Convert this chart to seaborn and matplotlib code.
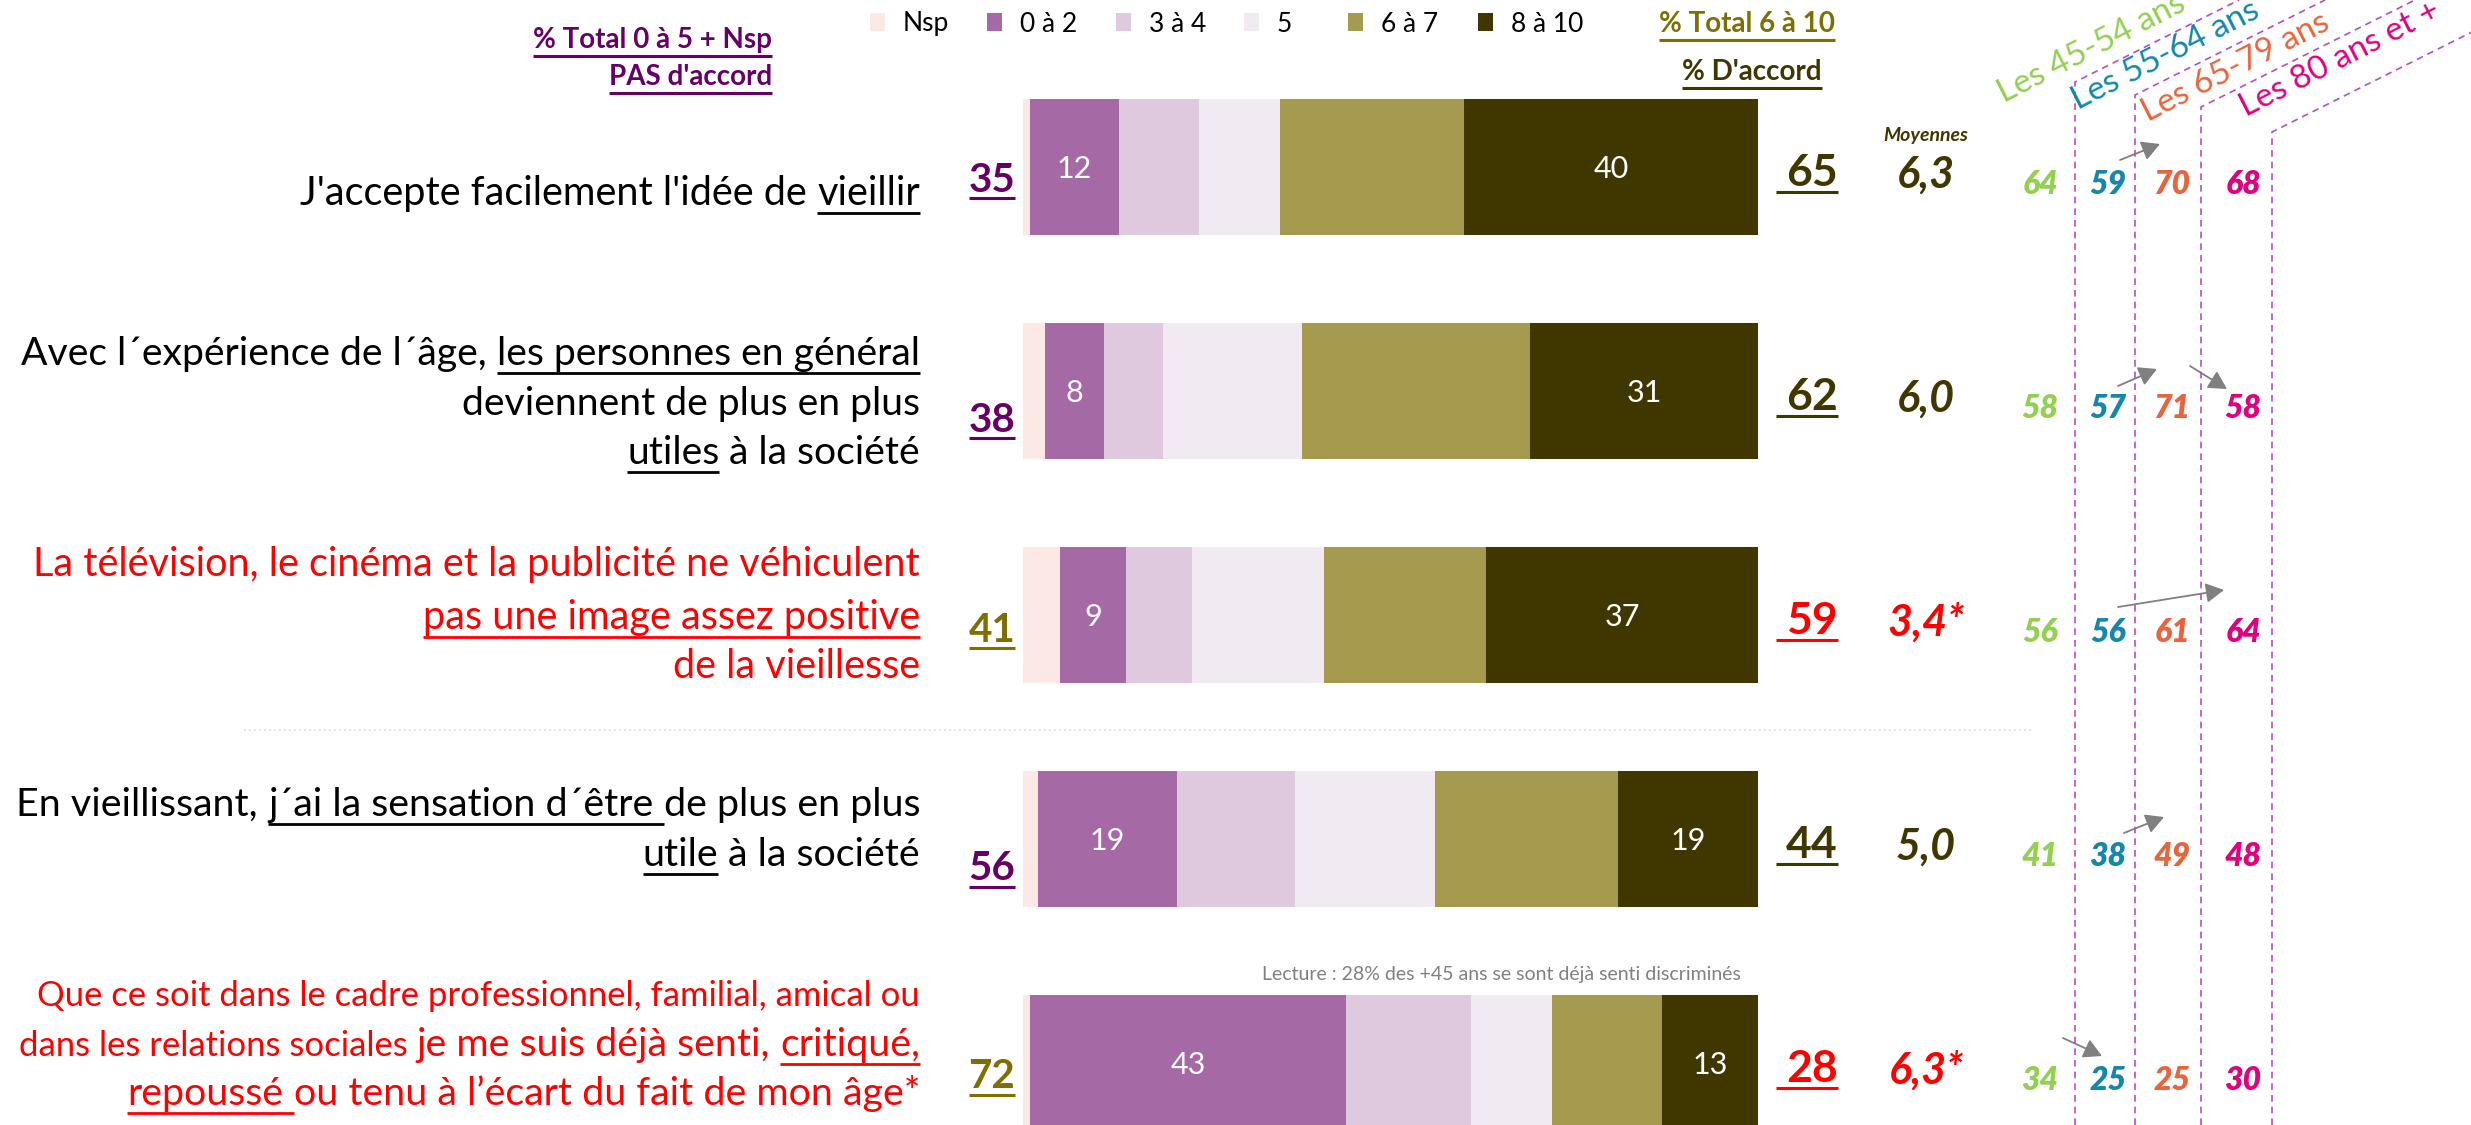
import numpy as np
import pandas as pd
import matplotlib
matplotlib.use("Agg")
import matplotlib.pyplot as plt
import matplotlib.transforms as mtransforms
import seaborn as sns
from matplotlib.font_manager import FontProperties
from matplotlib.lines import Line2D
from matplotlib.patches import Rectangle, FancyArrowPatch, ArrowStyle

# ---------------- data ----------------
questions = ["vieillir", "personnes_utiles", "image_medias", "moi_utile", "discrimine"]
scale_labels = ["Nsp", "0 à 2", "3 à 4", "5", "6 à 7", "8 à 10"]
nsp = [1, 3, 5, 2, 1]
note_0_2 = [12, 8, 9, 19, 43]
note_3_4 = [11, 8, 9, 16, 17]
note_5 = [11, 19, 18, 19, 11]
note_6_7 = [25, 31, 22, 25, 15]
note_8_10 = [40, 31, 37, 19, 13]
total_pas_accord = [35, 38, 41, 56, 72]
total_accord = [65, 62, 59, 44, 28]
moyennes = ["6,3", "6,0", "3,4*", "5,0", "6,3*"]
age_groups = ["Les 45-54 ans", "Les 55-64 ans", "Les 65-79 ans", "Les 80 ans et +"]
age_45_54 = [64, 58, 56, 41, 34]
age_55_64 = [59, 57, 56, 38, 25]
age_65_79 = [70, 71, 61, 49, 25]
age_80_plus = [68, 58, 64, 48, 30]
lecture = "Lecture : 28% des +45 ans se sont déjà senti discriminés"

# wording of each statement: lines of (text, underlined, size factor)
question_lines = [
    [[("J'accepte facilement l'idée de ", False, 1), ("vieillir", True, 1)]],
    [[("Avec l´expérience de l´âge, ", False, 1), ("les personnes en général", True, 1)],
     [("deviennent de plus en plus", False, 1)],
     [("utiles", True, 1), (" à la société", False, 1)]],
    [[("La télévision, le cinéma et la publicité ne véhiculent", False, 1)],
     [("pas une image assez positive", True, 1)],
     [("de la vieillesse", False, 1)]],
    [[("En vieillissant, ", False, 1), ("j´ai la sensation d´être ", True, 1), ("de plus en plus", False, 1)],
     [("utile", True, 1), (" à la société", False, 1)]],
    [[("Que ce soit dans le cadre professionnel, familial, amical ou", False, 0.88)],
     [("dans les relations sociales ", False, 0.88), ("je me suis déjà senti, ", False, 1), ("critiqué,", True, 1)],
     [("repoussé ", True, 1), ("ou tenu à l’écart du fait de mon âge*", False, 1)]],
]

# ---------------- styles / layout ----------------
PURPLE, OLIVE, DARK, RED = "#660066", "#7F6F00", "#403600", "#FF0000"
bar_colors = ["#FCE8E5", "#A56AA5", "#DFC9DF", "#F2EAF3", "#A69A4F", "#403700"]
age_colors = ["#92D050", "#1388AC", "#E8643C", "#E2007E"]
label_colors = ["black", "black", RED, "black", RED]
left_colors = [PURPLE, PURPLE, OLIVE, PURPLE, OLIVE]
right_colors = [DARK, DARK, RED, DARK, RED]

W, H = 2471, 1125
BAR_LEFT, BAR_RIGHT = 1023, 1758
ROW0, ROW_STEP = 167, 224
LABEL_RIGHT = 920
label_left_target = [299, 20, 33, 16, 36]
label_offsets = [[26], [-38, 12, 61], [-51, 2, 51], [-35, 15], [-69, -19, 30]]
left_tot_offsets = [10, 26, 12, 27, 11]

sns.set_style("white")
plt.rcParams["font.family"] = ["Lato", "DejaVu Sans"]

fig = plt.figure(figsize=(W / 100, H / 100), dpi=100)
px = mtransforms.Affine2D().scale(1, -1).translate(0, H)  # pixels from top-left
renderer = fig.canvas.get_renderer()

# ---------------- stacked bars ----------------
df = pd.DataFrame({"question": questions, "Nsp": nsp, "0 à 2": note_0_2, "3 à 4": note_3_4,
                   "5": note_5, "6 à 7": note_6_7, "8 à 10": note_8_10})
cum = df[scale_labels].cumsum(axis=1)
cum["question"] = df["question"]

ax = fig.add_axes([BAR_LEFT / W, 0, (BAR_RIGHT - BAR_LEFT) / W, 1])
for col, colr in reversed(list(zip(scale_labels, bar_colors))):
    sns.barplot(data=cum, x=col, y="question", order=questions, orient="h", color=colr,
                saturation=1, width=0.61, linewidth=0, errorbar=None, ax=ax)
ax.set_xlim(0, 100)
ax.set_ylim((H - ROW0) / ROW_STEP, -ROW0 / ROW_STEP)
ax.axis("off")

for i in range(len(questions)):
    for col in ["0 à 2", "8 à 10"]:
        val = df.loc[i, col]
        ax.text(cum.loc[i, col] - val / 2, i, str(val), ha="center", va="center_baseline",
                color="white", fontsize=22)


def row_y(i):
    return H - ax.transData.transform((0, i))[1]


# ---------------- helpers ----------------
def text_w(s, size, weight="normal", style="normal"):
    fp = FontProperties(family=["Lato", "DejaVu Sans"], size=size, weight=weight, style=style)
    w, _, _ = renderer.get_text_width_height_descent(s, fp, ismath=False)
    return w


def space_w(size):
    return text_w("a a", size) - text_w("aa", size)


def seg_w(s, size):
    lead = len(s) - len(s.lstrip())
    trail = len(s) - len(s.rstrip())
    sp = space_w(size)
    return lead * sp, text_w(s.strip(), size), trail * sp


def line_width(line, size):
    return sum(sum(seg_w(s, size * k)) for s, u, k in line)


def underline(x0, x1, y, color, lw=2):
    fig.add_artist(Line2D([x0, x1], [y, y], transform=px, color=color, lw=lw,
                          solid_capstyle="butt"))


def em(size):
    return size * 100 / 72


def draw_line(line, y_center, size, color, right):
    x = right - line_width(line, size)
    y_base = y_center + 0.3 * em(size)
    for s, ul, k in line:
        lead, core, trail = seg_w(s, size * k)
        x0 = x + lead
        fig.text(x0, y_base, s.strip(), transform=px, fontsize=size * k, color=color,
                 ha="left", va="baseline")
        if ul:
            underline(x0, x0 + core + trail, y_base + 0.2 * em(size * k), color)
        x += lead + core + trail


def number(x_c, y_c, s, size, color, weight="bold", style="normal", ul=False, ext=0):
    y_base = y_c + 0.36 * em(size)
    fig.text(x_c, y_base, s, transform=px, fontsize=size, color=color, weight=weight,
             style=style, ha="center", va="baseline")
    if ul:
        w = text_w(s, size, weight=weight, style=style)
        underline(x_c - w / 2 - ext, x_c + w / 2, y_base + 6, color, lw=2.2)


def header(x_right, y_c, s, size, color):
    y_base = y_c + 0.36 * em(size)
    fig.text(x_right, y_base, s, transform=px, fontsize=size, color=color, weight="bold",
             ha="right", va="baseline")
    w = text_w(s, size, weight="bold")
    underline(x_right - w, x_right, y_base + 8, color, lw=2.2)


# ---------------- statement labels ----------------
for i, lines in enumerate(question_lines):
    base = 24
    size = base * (LABEL_RIGHT - label_left_target[i]) / line_width(lines[0], base)
    for line, off in zip(lines, label_offsets[i]):
        draw_line(line, row_y(i) + off, size, label_colors[i], LABEL_RIGHT)

# ---------------- totals, means, age groups ----------------
age_values = [age_45_54, age_55_64, age_65_79, age_80_plus]
age_x = [2040, 2108, 2172, 2243]
for i in range(len(questions)):
    yc = row_y(i)
    number(992, yc + left_tot_offsets[i], str(total_pas_accord[i]), 29, left_colors[i], ul=True)
    number(1812, yc + 3, str(total_accord[i]), 32, right_colors[i], ul=True, ext=10)
    number(1926, yc + 5, moyennes[i], 31, right_colors[i], style="italic")
    for vals, x, c in zip(age_values, age_x, age_colors):
        number(x, yc + 15, str(vals[i]), 23, c, weight="heavy", style="italic")

number(1926, 134, "Moyennes", 14, DARK, style="italic")

# arrows between age groups (row, x0, dy0, x1, dy1)
arrows = [(0, 2120, -7, 2160, -23), (1, 2118, -5, 2157, -22), (1, 2190, -25, 2227, -2),
          (2, 2118, -8, 2224, -25), (3, 2124, -6, 2164, -22), (4, 2063, -25, 2102, -7)]
style = ArrowStyle("-|>", head_length=0.55, head_width=0.3)
for r, x0, d0, x1, d1 in arrows:
    fig.add_artist(FancyArrowPatch((x0, row_y(r) + d0), (x1, row_y(r) + d1), transform=px,
                                   arrowstyle=style, mutation_scale=20, color="#808080",
                                   lw=1.3, shrinkA=0, shrinkB=0))

# dashed column separators with slanted tops
dash_x = [2075, 2135, 2201, 2272]
dash_top = [82, 95, 107, 132]
for x, top in zip(dash_x, dash_top):
    fig.add_artist(Line2D([x, x, x + top / 0.5], [H, top, 0], transform=px, color="#B84FB8",
                          lw=1.2, ls=(0, (4, 3))))

age_label_pos = [(2004, 103), (2078, 110), (2148, 122), (2246, 117)]
for lab, (x, y), c in zip(age_groups, age_label_pos, age_colors):
    fig.text(x, y, lab, transform=px, rotation=27, rotation_mode="anchor", ha="left",
             va="baseline", fontsize=24, color=c)

# ---------------- legend & headers ----------------
leg_sq_x = [870, 987, 1116, 1244, 1348, 1478]
for lab, x, c in zip(scale_labels, leg_sq_x, bar_colors):
    fig.add_artist(Rectangle((x, 13), 15, 18, transform=px, facecolor=c, edgecolor="none"))
    fig.text(x + 33, 22 + 0.36 * em(19), lab, transform=px, fontsize=19, color="black",
             ha="left", va="baseline")

header(772, 38, "% Total 0 à 5 + Nsp", 20, PURPLE)
header(772, 75, "PAS d'accord", 20, PURPLE)
header(1835, 22, "% Total 6 à 10", 20, OLIVE)
header(1822, 70, "% D'accord", 20, DARK)

# separator and reading note
sep_y = (row_y(2) + row_y(3)) / 2 + 3
fig.add_artist(Line2D([244, 2033], [sep_y, sep_y], transform=px, color="#DDDDDD", lw=1.2,
                      ls=(0, (1, 2))))
fig.text(1741, row_y(4) - 90 + 0.36 * em(14), lecture, transform=px, fontsize=14,
         color="#808080", ha="right", va="baseline")

fig.savefig("out.png", dpi=100, facecolor="white")
